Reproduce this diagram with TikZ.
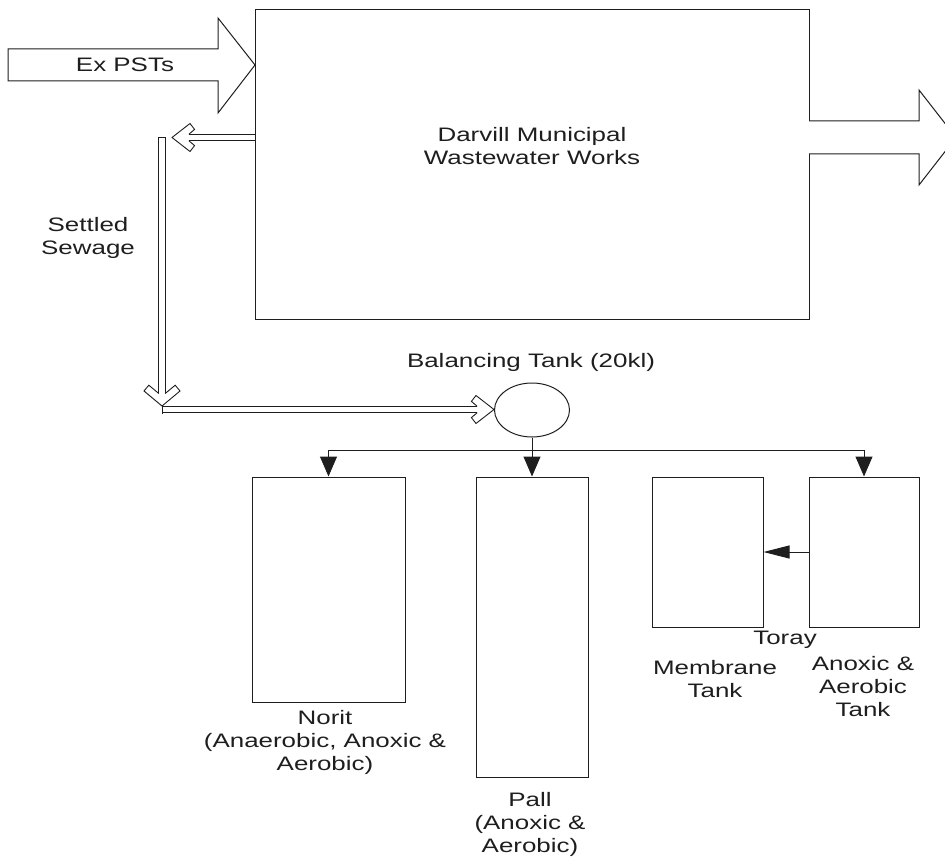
\documentclass[tikz,border=0pt]{standalone}
\usepackage{fontspec}
\setmainfont{Liberation Sans}[FakeStretch=1.33]
\usetikzlibrary{arrows.meta,shapes.geometric,calc}
\definecolor{ink}{HTML}{1E1E1E}
% hollow chevron head for the double-line arrows: #1 tip, #2 rotation, #3 point list (upper half, mirrored)
\newcommand\dblchevron[3]{%
  \begin{scope}[shift={(#1)}, rotate=#2]
    \fill[white] #3 -- cycle;
    \draw[capline] #3;
  \end{scope}}
\begin{document}
\begin{tikzpicture}[x=1pt,y=-1pt,
  box/.style={draw=ink, line width=1pt, inner sep=0pt},
  txt/.style={text=ink, font=\fontsize{19.5}{23}\selectfont, align=center, inner sep=0pt},
  bigarrow/.style={draw=ink, line width=1pt, fill=white, line join=miter},
  dbl/.style={draw=ink, double=white, double distance=5.5pt, line width=0.9pt},
  capline/.style={draw=ink, line width=0.9pt, line join=miter},
  plain/.style={draw=ink, line width=1pt},
  flow/.style={draw=ink, line width=1pt, -{Triangle[length=20pt,width=17pt]}},
  flowside/.style={draw=ink, line width=1pt, -{Triangle[length=26pt,width=13pt]}}]
\useasboundingbox (0,0) rectangle (945,861);

% main works box
\node[box, minimum width=554pt, minimum height=309pt] (works) at (532,164.5) {};
\node[txt] (workslbl) at (532,146.5) {Darvill Municipal\\Wastewater Works};

% incoming big arrow
\draw[bigarrow] (8,49) -- (218,49) -- (218,18) -- (255,65) -- (218,113) -- (218,81) -- (8,81) -- cycle;
\node[txt] (expst) at (125,65) {Ex PSTs};

% outgoing big arrow
\begin{scope}
\clip (0,0) rectangle (945,861);
\draw[bigarrow] (809,121) -- (919,121) -- (919,90) -- (956,137.5) -- (919,185) -- (919,154) -- (809,154);
\end{scope}

% settled sewage: return from works
\coordinate (retS) at (255,137.5);
\coordinate (retE) at (172,137.5);
\draw[dbl] (retS) -- ($(retE)+(12,0)$);
\dblchevron{retE}{0}{(16.8,-3.2) -- (22.6,-8.1) -- (18,-14) -- (0,0) -- (18,14) -- (22.6,8.1) -- (16.8,3.2)}

% settled sewage: down
\coordinate (vtop) at (162,137);
\coordinate (vbot) at (162,406);
\draw[dbl] (vtop) -- ($(vbot)+(0,-11)$);
\draw[capline] ([xshift=-4.1pt]vtop) -- ([xshift=4.1pt]vtop);
\dblchevron{vbot}{90}{(12.5,-3.2) -- (20.8,-13.2) -- (15,-18) -- (0,0) -- (15,18) -- (20.8,13.2) -- (12.5,3.2)}

\node[txt] (settled) at (88,238) {Settled\\Sewage};

% balancing tank
\node[draw=ink, line width=1pt, ellipse, minimum width=75pt, minimum height=54pt, inner sep=0pt] (bal) at (532,410) {};
\node[txt] (ballbl) at (531,362) {Balancing Tank (20kl)};

% settled sewage: to balancing tank
\coordinate (hstart) at (162,409.5);
\draw[dbl] (hstart) -- ($(bal.west)+(-12,-0.5)$);
\draw[capline] ([yshift=-4.1pt]hstart) -- ([yshift=4.1pt]hstart);
\dblchevron{$(bal.west)+(0,-0.5)$}{180}{(16.8,-3.2) -- (22.6,-8.1) -- (18,-14) -- (0,0) -- (18,14) -- (22.6,8.1) -- (16.8,3.2)}

% tanks
\node[box, minimum width=153pt, minimum height=225pt] (norit) at (328.5,589.5) {};
\node[box, minimum width=112pt, minimum height=300pt] (pall) at (532,627) {};
\node[box, minimum width=111pt, minimum height=150pt] (memb) at (707.5,552) {};
\node[box, minimum width=110pt, minimum height=150pt] (anox) at (864,552) {};

% distribution
\coordinate (split) at (532,450);
\draw[plain] (bal.south) -- (split);
\draw[flow] (split) -- (pall.north);
\draw[flow] (split) -| (norit.north);
\draw[flow] (split) -| (anox.north);
\draw[flowside] (anox.west) -- (memb.east);

% labels
\node[txt] (noritlbl) at (325,742.5) {Norit\\(Anaerobic, Anoxic \&\\Aerobic)};
\node[txt] (palllbl) at (530,824.5) {Pall\\(Anoxic \&\\Aerobic)};
\node[txt] (toray) at (785,640) {Toray};
\node[txt] (memblbl) at (715,679.5) {Membrane\\Tank};
\node[txt] (anoxlbl) at (863,686.5) {Anoxic \&\\Aerobic\\Tank};
\end{tikzpicture}
\end{document}
